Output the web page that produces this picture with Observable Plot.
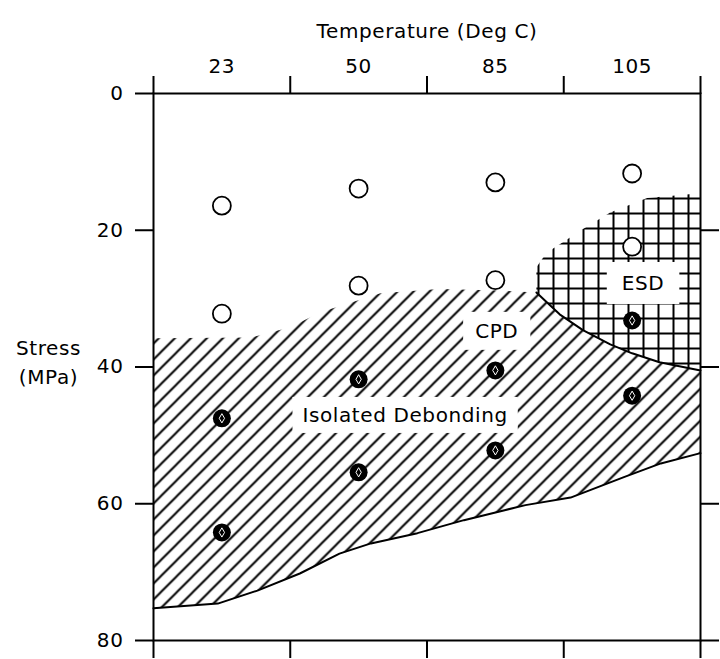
<!DOCTYPE html>
<html>
<head>
<meta charset="utf-8">
<script src="https://cdn.jsdelivr.net/npm/d3@7"></script>
<script src="https://cdn.jsdelivr.net/npm/@observablehq/plot@0.6"></script>
<style>
  html, body { margin: 0; padding: 0; background: white; }
</style>
</head>
<body>
<div id="chart"></div>
<script>
// Temperature categories (columns of the chart)
const temperatures = ["23", "50", "85", "105"];

// Observed stress levels (MPa) for each temperature
const openStressUpper   = [16.4, 13.9, 13.0, 11.7];
const openStressLower   = [32.2, 28.1, 27.3, 22.4];
const filledStressUpper = [47.5, 41.8, 40.5, 33.2];
const filledStressLower = [64.2, 55.4, 52.2, 44.2];

// Region boundaries; x is the column coordinate (0 = left frame edge, 4 = right frame edge)
const debondTopX      = [0, 0.71, 1.0, 1.22, 1.66, 2.09, 2.53, 2.80];
const debondTopStress = [35.8, 35.7, 34.2, 32.0, 29.2, 28.6, 28.8, 29.1];

const esdLowerX      = [2.80, 2.97, 3.14, 3.34, 3.50, 3.70, 4.0];
const esdLowerStress = [29.1, 32.3, 34.6, 36.7, 38.0, 39.3, 40.5];

const esdUpperX      = [2.80, 2.80, 2.85, 2.92, 3.15, 3.34, 3.61, 4.0];
const esdUpperStress = [29.1, 25.4, 24.0, 22.7, 19.7, 17.4, 15.3, 14.6];

const debondBottomX      = [0, 0.47, 0.76, 1.07, 1.36, 1.59, 1.93, 2.27, 2.72, 3.05, 3.44, 3.71, 4.0];
const debondBottomStress = [75.3, 74.6, 72.7, 70.2, 67.3, 65.8, 64.3, 62.4, 60.2, 59.1, 56.1, 54.1, 52.6];

// Region labels and their positions (column coordinate, stress)
const regionLabels      = ["Isolated Debonding", "CPD", "ESD"];
const regionLabelX      = [1.84, 2.51, 3.58];
const regionLabelStress = [47.1, 34.8, 27.8];

// ---- build tables from the arrays ----
const pts = (xs, ys) => xs.map((x, i) => ({x, y: ys[i]}));
const colRows = (vals) => vals.map((v, i) => ({x: i + 0.5, y: v}));

const openRows = [...colRows(openStressUpper), ...colRows(openStressLower)];
const filledRows = [...colRows(filledStressUpper), ...colRows(filledStressLower)];

const debondTop = pts(debondTopX, debondTopStress);
const esdLower = pts(esdLowerX, esdLowerStress);
const esdUpper = pts(esdUpperX, esdUpperStress);
const debondBottom = pts(debondBottomX, debondBottomStress);

const hatchRing = [...debondTop, ...esdLower.slice(1), ...debondBottom.slice().reverse()];
const esdRing = [...esdUpper, ...esdLower.slice().reverse()];

const labelRows = regionLabels.map((t, i) => ({t, x: regionLabelX[i], y: regionLabelStress[i]}));

const font = "'DejaVu Sans', sans-serif";

const svg = Plot.plot({
  width: 720,
  height: 659,
  marginLeft: 153,
  marginRight: 20,
  marginTop: 93,
  marginBottom: 19,
  x: {domain: [0, 4], label: null},
  y: {domain: [0, 80], reverse: true, label: null},
  style: {fontFamily: font, fontSize: "20px", color: "black", background: "white", letterSpacing: "0.6px"},
  marks: [
    Plot.line(hatchRing, {x: "x", y: "y", fill: "url(#hatch)", stroke: "none"}),
    Plot.line(esdRing, {x: "x", y: "y", fill: "url(#cross)", stroke: "none"}),
    Plot.line(debondBottom, {x: "x", y: "y", stroke: "black", strokeWidth: 2}),
    Plot.line(esdLower, {x: "x", y: "y", stroke: "black", strokeWidth: 2}),
    Plot.frame({stroke: "black", strokeWidth: 2}),
    Plot.axisX({anchor: "top", ticks: [0, 1, 2, 3, 4], tickSize: 18, strokeWidth: 2, tickFormat: () => ""}),
    Plot.axisX({anchor: "top", ticks: [0.5, 1.5, 2.5, 3.5], tickSize: 0, tickPadding: 21, fontSize: 20,
      tickFormat: d => temperatures[Math.floor(d)]}),
    Plot.axisX({anchor: "bottom", ticks: [0, 1, 2, 3, 4], tickSize: 18, strokeWidth: 2, tickFormat: () => ""}),
    Plot.axisY({anchor: "left", ticks: [0, 20, 40, 60, 80], tickSize: 18, tickPadding: 12, strokeWidth: 2, fontSize: 20}),
    Plot.axisY({anchor: "right", ticks: [20, 40, 60, 80], tickSize: 18, strokeWidth: 2, tickFormat: () => ""}),
    Plot.text(["Temperature (Deg C)"], {frameAnchor: "top", dy: -70, fontSize: 20}),
    Plot.text(["Stress\n(MPa)"], {frameAnchor: "left", textAnchor: "middle", dx: -105, dy: -7, lineHeight: 1.45, fontSize: 20}),
    Plot.text(labelRows, {x: "x", y: "y", text: "t", fontSize: 20}),
    Plot.dot(openRows, {x: "x", y: "y", r: 9, stroke: "black", strokeWidth: 1.8, fill: "white"}),
    Plot.dot(filledRows, {x: "x", y: "y", r: 9, fill: "black", stroke: "none"}),
    Plot.dot(filledRows, {x: "x", y: "y", r: 2.8, symbol: "diamond", stroke: "white", strokeWidth: 1, fill: "none"})
  ]
});

// Patterns
d3.select(svg).insert("defs", ":first-child").html(`
  <pattern id="hatch" patternUnits="userSpaceOnUse" width="16" height="16">
    <path d="M-4,4 L4,-4 M0,16 L16,0 M12,20 L20,12" stroke="black" stroke-width="2" fill="none"/>
  </pattern>
  <pattern id="cross" patternUnits="userSpaceOnUse" x="12" y="2" width="15" height="15">
    <path d="M0,1 H15 M1,0 V15" stroke="black" stroke-width="2" fill="none"/>
  </pattern>
`);

document.getElementById("chart").appendChild(svg);

// White boxes behind region labels
const pads = {"Isolated Debonding": [10, 8], "CPD": [12, 9], "ESD": [15, 11]};
svg.querySelectorAll("text").forEach((t) => {
  const label = t.textContent;
  if (!(label in pads)) return;
  const b = t.getBBox();
  const [px, py] = pads[label];
  const g = t.parentNode;
  const rect = document.createElementNS("http://www.w3.org/2000/svg", "rect");
  rect.setAttribute("x", b.x - px);
  rect.setAttribute("y", b.y - py + 2);
  rect.setAttribute("width", b.width + 2 * px);
  rect.setAttribute("height", b.height + 2 * py - 4);
  rect.setAttribute("fill", "white");
  rect.setAttribute("stroke", "none");
  if (t.getAttribute("transform")) rect.setAttribute("transform", t.getAttribute("transform"));
  g.insertBefore(rect, t);
});
</script>
</body>
</html>
